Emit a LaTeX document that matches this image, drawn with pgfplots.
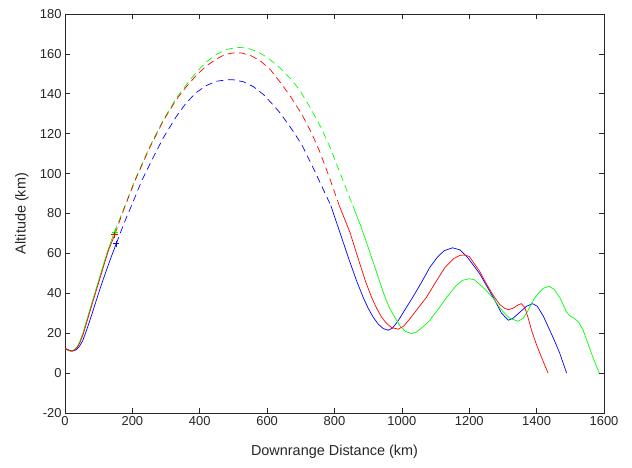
\documentclass[border=0pt]{standalone}
\usepackage{pgfplots}
\pgfplotsset{compat=1.18}
\usepackage{fontspec}
\setmainfont{Liberation Sans}
\definecolor{axgray}{rgb}{0.15,0.15,0.15}
\definecolor{mblue}{rgb}{0,0,1}
\definecolor{mred}{rgb}{1,0,0}
\definecolor{mgreen}{rgb}{0,1,0}
\begin{document}
\begin{tikzpicture}
\useasboundingbox (-65bp,-55bp) rectangle (567bp,413bp);
\begin{axis}[
  at={(0,0)}, anchor=south west,
  scale only axis, width=539bp, height=399bp,
  xmin=0, xmax=1600, ymin=-20, ymax=180,
  xtick={0,200,...,1600}, ytick={-20,0,...,180},
  tick align=inside, major tick length=5bp,
  axis line style={axgray, line width=0.6bp},
  every tick/.style={axgray, line width=0.6bp},
  tick label style={font=\fontsize{13}{15}\selectfont, text=axgray},
  /pgf/number format/assume math mode=true,
  /pgf/number format/1000 sep={},
  scaled ticks=false,
  xlabel={Downrange Distance (km)}, ylabel={Altitude (km)},
  label style={font=\fontsize{14.5}{17}\selectfont, text=axgray},
  xlabel style={at={(axis description cs:0.5,-0.0977)}, anchor=center},
  ylabel style={at={(axis description cs:-0.0798,0.5)}, anchor=center},
  every axis plot/.append style={line width=0.7bp},
  clip=true,
]
% ---- blue ----
\addplot[mblue] coordinates {(0,12.5)(10,11.6)(22,11)(32,11.6)(42,13.2)(52,16)(63,21)(77,28)(93,36.5)(109,44.8)(126,53)(140,59.5)(152,64.8)};
\addplot[mblue, dash pattern=on 7bp off 4.5bp] coordinates {(152,64.8)(175,75)(200,85)(228,96.5)(260,107.5)(292,118)(330,128.5)(360,135.5)(391,140.8)(420,144.2)(450,146.3)(480,147)(500,147)(530,146)(560,143.5)(590,139.5)(620,134)(638,130.5)(670,123)(702,114.8)(742,101)(789,84)};
\addplot[mblue] coordinates {(789,84)(824,66.5)(844,56.5)(865,46.5)(885,38)(900,32.5)(915,28)(930,24.5)(945,22.3)(959,21.5)(972,22.5)(990,26.5)(1010,32)(1034,38.5)(1060,46)(1083,53)(1105,58)(1125,61.3)(1150,62.8)(1172,61.8)(1195,58)(1231,49.8)(1271,38)(1296,30)(1316,26.5)(1330,27.5)(1350,30.5)(1370,33.5)(1388,34.8)(1402,33.5)(1420,28.5)(1439,21.5)(1455,15.5)(1469,9.8)(1489,0)};
% ---- green ----
\addplot[mgreen] coordinates {(0,12.5)(7,11.6)(16,11)(26,11.5)(35,13)(43,15.5)(53,20)(67,28)(82,36.5)(97,44.8)(112,53.3)(127,61.5)(146,70.5)};
\addplot[mgreen, dash pattern=on 7bp off 4.5bp] coordinates {(146,70.5)(170,80.5)(208,97)(250,113)(292,127)(330,137.8)(360,144.5)(391,151)(420,156)(450,159.8)(480,162.2)(510,163.3)(540,163)(570,161.2)(600,158.3)(638,153)(670,147.5)(697,141.8)(730,132.5)(760,123)(786,113.5)(816,100.5)(854,84)};
\addplot[mgreen] coordinates {(854,84)(875,75)(893,66.5)(913,56.5)(930,48)(950,38)(965,32)(979,28)(995,23.5)(1010,21)(1029,19.8)(1045,20.8)(1065,23.5)(1083,26.5)(1110,32.5)(1133,38)(1162,44)(1180,46.5)(1200,47.3)(1215,46.8)(1231,44.5)(1250,41.5)(1271,37.5)(1290,33)(1301,30.7)(1320,27.5)(1345,26)(1360,27.5)(1375,31.5)(1390,36.5)(1405,40)(1420,42.5)(1437,43.5)(1452,42)(1470,37.5)(1489,30.5)(1500,28.5)(1513,27.3)(1525,25.5)(1538,21.5)(1550,16)(1563,9.8)(1575,4.5)(1586,0)};
% ---- red ----
\addplot[mred] coordinates {(0,12.5)(8,11.6)(18,11)(28,11.5)(37,13)(45,15.5)(55,20)(69,28)(84,36.5)(99,44.8)(114,53.3)(129,61.5)(148,69.5)};
\addplot[mred, dash pattern=on 7bp off 4.5bp] coordinates {(148,69.5)(170,80)(208,96.5)(250,112.5)(292,126.5)(330,137)(360,143.5)(391,149.5)(420,154)(450,157.5)(475,159.7)(500,160.5)(525,160.4)(550,159.3)(580,156.5)(610,152)(638,146)(670,138.5)(702,130)(730,121)(755,111.5)(785,98)(814,84)};
\addplot[mred] coordinates {(814,84)(846,70.5)(872,56.5)(892,46)(910,38)(925,32.5)(940,28)(955,24.8)(970,22.8)(989,22)(1005,23.5)(1025,27.5)(1050,33)(1073,38)(1100,45.5)(1128,53)(1155,57.5)(1172,59)(1185,59.2)(1200,58.5)(1231,51)(1250,45)(1271,39)(1290,34.5)(1305,32.5)(1316,31.8)(1330,32.5)(1345,34.2)(1355,34.8)(1365,32.8)(1375,27.5)(1385,21.5)(1398,15)(1410,9.8)(1422,4.8)(1434,0)};
% ---- markers ----
\addplot[mblue, only marks, mark=+, mark size=3.2bp] coordinates {(152,64.8)};
\addplot[mgreen, only marks, mark=+, mark size=3.2bp] coordinates {(148,70.8)};
\addplot[mred, only marks, mark=+, mark size=3.2bp] coordinates {(147,69.3)};
\end{axis}
\end{tikzpicture}
\end{document}
